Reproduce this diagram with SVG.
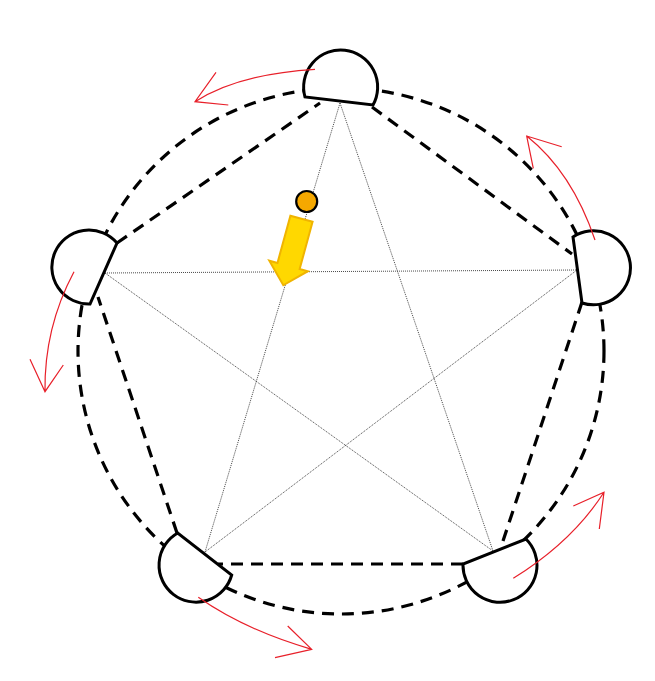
<svg xmlns="http://www.w3.org/2000/svg" width="655" height="681" viewBox="0 0 655 681">
<style>
.dash{fill:none;stroke:#000;stroke-width:3.2;stroke-dasharray:12 8}
.star{fill:none;stroke:#333;stroke-width:0.9;stroke-dasharray:1 1}
.node{fill:#fff;stroke:#000;stroke-width:3;stroke-linejoin:miter}
.red{fill:none;stroke:#e8202a;stroke-width:1.2}
</style>
<rect width="655" height="681" fill="#fff"/>
<g id="connectors">
<circle class="dash" cx="341" cy="351" r="263"/>
<line class="dash" x1="372" y1="107" x2="572" y2="254"/>
<line class="dash" x1="582" y1="302" x2="503" y2="541"/>
<line class="dash" x1="463" y1="564" x2="218" y2="564"/>
<line class="dash" x1="177" y1="533" x2="98" y2="297"/>
<line class="dash" x1="117" y1="243" x2="320" y2="103"/>
<line class="star" x1="340" y1="103" x2="205" y2="552"/>
<line class="star" x1="340" y1="103" x2="493" y2="551"/>
<line class="star" x1="105" y1="273" x2="577" y2="270"/>
<line class="star" x1="105" y1="273" x2="493" y2="551"/>
<line class="star" x1="577" y1="270" x2="205" y2="552"/>
</g>
<g id="node-top"><path class="node" d="M305,97 A37,37 0 1 1 373,105 Z"/></g>
<g id="node-left"><path class="node" d="M90,304 A37,37 0 1 1 117,243 Z"/></g>
<g id="node-right"><path class="node" d="M573,237 A37,37 0 1 1 582,303 Z"/></g>
<g id="node-bottom-right"><path class="node" d="M526,539 A37,37 0 1 1 463,564 Z"/></g>
<g id="node-bottom-left"><path class="node" d="M231.7,575 A37,37 0 1 1 177.7,533 Z"/></g>
<g id="rotation-arrows">
<path class="red" d="M315,69.3 Q238,74 195,101.7 M216,72.3 L195,101.7 L228.3,105"/>
<path class="red" d="M595,240 Q572,172 526.7,136 M561.7,146.7 L526.7,136 L533.3,168.3"/>
<path class="red" d="M74,271.7 Q44,328 45,391.7 M30,359.3 L45,391.7 L63.3,365"/>
<path class="red" d="M198.3,597.3 Q245,630 311.7,649.3 M287.7,626 L311.7,649.3 L275,657.7"/>
<path class="red" d="M513.3,578.3 Q572,542 604,492.3 M573.3,506 L604,492.3 L599.3,529"/>
</g>
<g id="indicator">
<circle cx="306.7" cy="201.5" r="10.5" fill="#f5a800" stroke="#000" stroke-width="2.2"/>
<polygon transform="translate(301.5,218.7) rotate(15.3)" points="-11.5,0 11.5,0 11.5,49 20,49 0,69 -20,49 -11.5,49" fill="#ffd800" stroke="#f0b400" stroke-width="2" stroke-linejoin="miter"/>
</g>
</svg>
